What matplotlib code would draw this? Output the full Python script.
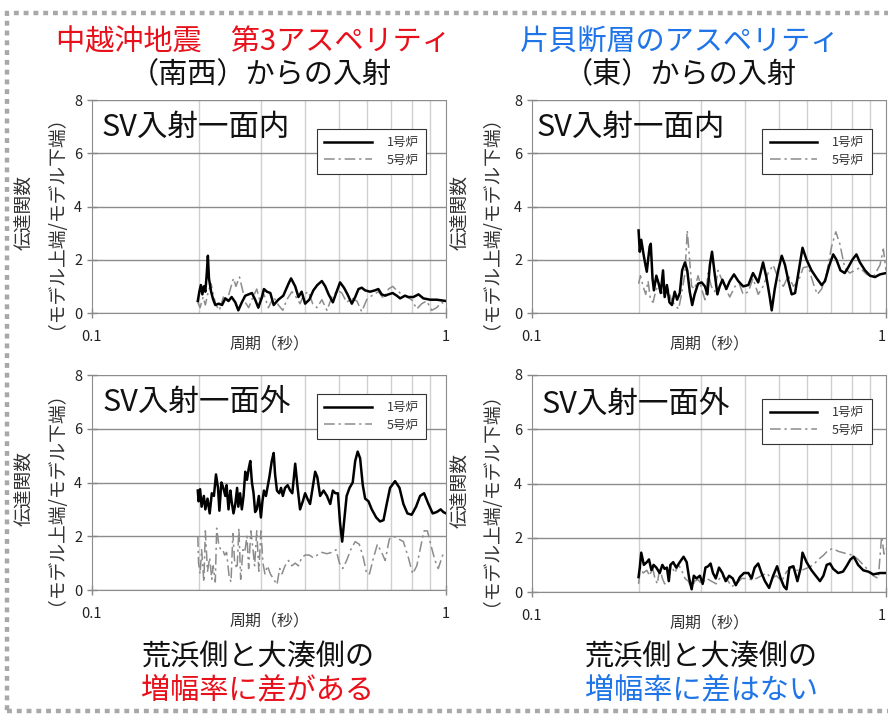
import matplotlib
matplotlib.use('Agg')
import matplotlib.pyplot as plt
from matplotlib.lines import Line2D
from matplotlib.patches import Rectangle
from matplotlib.ticker import FixedLocator, NullFormatter

plt.rcParams['font.family'] = ['Noto Sans CJK JP', 'DejaVu Sans']

# ---- data: period (s) and transfer function (model top / model bottom) ----
# 中越沖地震 第3アスペリティ, SV入射-面内
tl_p1 = [0.199, 0.201, 0.203, 0.205, 0.207, 0.209, 0.211, 0.2125, 0.214, 0.217, 0.220, 0.223,
         0.228, 0.233, 0.238, 0.243, 0.248, 0.254, 0.259, 0.265, 0.271, 0.277, 0.283, 0.289,
         0.295, 0.302, 0.306, 0.312, 0.319, 0.326, 0.336, 0.347, 0.359, 0.365, 0.375, 0.383,
         0.391, 0.400, 0.411, 0.422, 0.433, 0.446, 0.456, 0.466, 0.479, 0.491, 0.502, 0.515,
         0.527, 0.542, 0.554, 0.566, 0.578, 0.591, 0.610, 0.630, 0.644, 0.658, 0.673, 0.688,
         0.707, 0.726, 0.742, 0.766, 0.783, 0.809, 0.836, 0.863, 0.901, 0.941, 1.000]
tl_v1 = [0.45, 0.8, 1.05, 0.7, 1.0, 0.8, 1.5, 2.15, 1.3, 0.8, 0.5, 0.3,
         0.35, 0.3, 0.55, 0.45, 0.6, 0.4, 0.1, 0.4, 0.65, 0.7, 0.75, 0.5,
         0.2, 0.6, 0.9, 0.8, 0.75, 0.3, 0.5, 0.65, 1.1, 1.3, 1.0, 0.6,
         0.8, 0.35, 0.5, 0.85, 1.05, 1.2, 1.0, 0.7, 0.4, 0.8, 1.15, 0.95,
         0.7, 0.35, 0.6, 0.9, 0.95, 0.85, 0.8, 0.85, 0.9, 0.7, 0.65, 0.7,
         0.75, 0.65, 0.55, 0.65, 0.6, 0.6, 0.7, 0.55, 0.5, 0.5, 0.45]
tl_p5 = [0.199, 0.202, 0.206, 0.209, 0.213, 0.217, 0.220, 0.224, 0.229, 0.235, 0.240, 0.246,
         0.251, 0.255, 0.261, 0.267, 0.271, 0.277, 0.285, 0.292, 0.299, 0.306, 0.315, 0.326,
         0.336, 0.346, 0.355, 0.367, 0.377, 0.387, 0.397, 0.409, 0.420, 0.432, 0.446, 0.461,
         0.476, 0.494, 0.508, 0.524, 0.542, 0.560, 0.578, 0.597, 0.617, 0.644, 0.666, 0.688,
         0.707, 0.726, 0.750, 0.775, 0.800, 0.827, 0.854, 0.882, 0.911, 0.941, 0.972, 1.000]
tl_v5 = [0.4, 0.2, 0.6, 0.3, 0.8, 1.1, 0.7, 0.3, 0.1, 0.6, 0.4, 0.9,
         1.3, 1.0, 1.35, 0.8, 0.4, 0.2, 0.6, 0.9, 0.4, 0.7, 0.2, 0.6,
         0.3, 0.1, 0.5, 0.8, 0.6, 0.35, 0.7, 0.8, 0.35, 0.2, 0.5, 0.1,
         0.6, 0.85, 0.75, 0.4, 0.55, 0.45, 0.05, 0.5, 0.65, 0.8, 0.55, 0.9,
         1.0, 0.85, 0.7, 0.6, 0.5, 0.15, 0.35, 0.45, 0.1, 0.2, 0.4, 0.3]

# 片貝断層のアスペリティ, SV入射-面内
tr_p1 = [0.200, 0.2016, 0.2035, 0.206, 0.2085, 0.211, 0.2128, 0.215, 0.2165, 0.219, 0.221, 0.2245,
         0.228, 0.231, 0.2345, 0.237, 0.2405, 0.2445, 0.2485, 0.253, 0.257, 0.2615, 0.2655, 0.2705,
         0.2745, 0.279, 0.2835, 0.288, 0.2945, 0.3015, 0.308, 0.313, 0.318, 0.3225, 0.328, 0.334,
         0.339, 0.345, 0.354, 0.362, 0.372, 0.3825, 0.395, 0.4085, 0.421, 0.4355, 0.4495, 0.46,
         0.4695, 0.4755, 0.485, 0.496, 0.5075, 0.5185, 0.53, 0.5415, 0.5535, 0.5655, 0.581, 0.5965,
         0.616, 0.6375, 0.658, 0.6725, 0.692, 0.7095, 0.7245, 0.7435, 0.7645, 0.781, 0.8035, 0.825,
         0.844, 0.8725, 0.9015, 0.931, 0.9615, 1.000]
tr_v1 = [3.1, 2.3, 2.75, 2.3, 1.9, 1.55, 2.0, 2.5, 2.6, 1.3, 0.85, 1.4,
         1.1, 0.75, 1.6, 0.6, 1.05, 0.4, 0.3, 0.8, 0.5, 0.75, 1.6, 1.9,
         1.6, 0.8, 0.3, 0.7, 1.1, 1.15, 1.0, 0.7, 1.8, 2.3, 1.5, 0.7,
         1.0, 1.25, 0.9, 1.2, 1.45, 1.2, 1.0, 1.05, 1.5, 1.15, 1.9, 1.3,
         0.6, 0.1, 0.9, 1.6, 2.15, 1.8, 1.2, 0.7, 0.75, 1.5, 2.45, 2.0,
         1.6, 1.3, 1.05, 1.2, 1.8, 2.2, 2.0, 1.6, 1.5, 1.7, 2.0, 2.2,
         1.9, 1.6, 1.4, 1.35, 1.45, 1.5]
tr_p5 = [0.200, 0.2025, 0.206, 0.2095, 0.2128, 0.216, 0.2198, 0.2238, 0.227, 0.232, 0.237, 0.2425,
         0.2475, 0.253, 0.2595, 0.2645, 0.2705, 0.2745, 0.278, 0.2825, 0.288, 0.2945, 0.3015, 0.308,
         0.3145, 0.321, 0.328, 0.3355, 0.3425, 0.3525, 0.362, 0.3745, 0.385, 0.395, 0.4085, 0.421,
         0.4355, 0.4495, 0.4645, 0.48, 0.496, 0.513, 0.53, 0.5475, 0.5655, 0.5835, 0.603, 0.6235,
         0.6395, 0.658, 0.68, 0.702, 0.7215, 0.7405, 0.7645, 0.7895, 0.816, 0.844, 0.882, 0.9205,
         0.9615, 0.983, 1.000]
tr_v5 = [1.1, 1.4, 1.0, 0.7, 1.2, 0.5, 0.4, 0.85, 1.0, 0.8, 0.7, 0.9,
         0.5, 0.3, 0.15, 0.7, 1.5, 3.1, 2.2, 1.0, 0.9, 1.4, 0.9, 0.5,
         1.5, 1.0, 0.8, 1.6, 1.3, 0.9, 0.6, 1.0, 1.1, 0.7, 0.8, 1.3,
         0.7, 1.0, 1.5, 1.8, 1.3, 1.0, 1.4, 1.0, 1.2, 1.7, 1.75, 1.1,
         0.7, 0.9, 1.5, 2.5, 3.05, 2.6, 1.7, 1.5, 1.6, 1.7, 1.45, 1.35,
         1.8, 2.4, 1.6]

# 中越沖地震 第3アスペリティ, SV入射-面外
bl_p1 = [0.199, 0.200, 0.202, 0.204, 0.207, 0.209, 0.212, 0.215, 0.218, 0.221, 0.224, 0.227,
         0.229, 0.232, 0.235, 0.238, 0.240, 0.243, 0.246, 0.248, 0.251, 0.254, 0.257, 0.259,
         0.262, 0.265, 0.268, 0.271, 0.274, 0.277, 0.280, 0.283, 0.286, 0.289, 0.292, 0.296,
         0.300, 0.303, 0.306, 0.310, 0.313, 0.317, 0.322, 0.326, 0.329, 0.333, 0.338, 0.342,
         0.346, 0.351, 0.357, 0.363, 0.368, 0.375, 0.381, 0.387, 0.394, 0.400, 0.406, 0.413,
         0.420, 0.427, 0.433, 0.441, 0.451, 0.461, 0.471, 0.479, 0.487, 0.495, 0.502, 0.509,
         0.515, 0.524, 0.534, 0.545, 0.554, 0.563, 0.572, 0.582, 0.591, 0.604, 0.617, 0.635,
         0.651, 0.666, 0.680, 0.695, 0.718, 0.739, 0.758, 0.778, 0.800, 0.823, 0.845, 0.867,
         0.892, 0.917, 0.941, 0.966, 0.983, 1.000]
bl_v1 = [3.7, 3.3, 3.75, 3.1, 3.5, 3.0, 3.4, 2.85, 3.6, 3.5, 4.3, 3.8,
         2.95, 4.0, 3.8, 3.5, 3.9, 3.0, 3.7, 3.3, 2.85, 3.2, 3.8, 3.1,
         3.6, 3.0, 3.5, 4.4, 4.1, 4.5, 4.8, 4.0, 3.6, 2.9, 3.0, 3.5,
         2.7, 3.3, 3.7, 3.5, 3.8, 4.2, 4.8, 5.1, 4.3, 3.7, 3.6, 3.8,
         3.5, 3.8, 3.9, 3.7, 3.6, 4.7, 3.8, 3.0, 3.3, 3.6, 3.4, 3.2,
         3.8, 4.4, 4.2, 3.5, 3.7, 3.5, 3.2, 3.7, 3.6, 3.6, 2.5, 1.8,
         2.5, 3.5, 3.8, 4.0, 4.8, 5.15, 4.9, 3.9, 3.4, 3.3, 3.0, 2.7,
         2.55, 2.6, 3.2, 3.8, 4.05, 3.8, 3.2, 2.85, 2.8, 3.1, 3.5, 3.6,
         3.2, 2.85, 2.9, 3.0, 2.9, 2.85]
bl_p5 = [0.199, 0.200, 0.202, 0.204, 0.207, 0.209, 0.212, 0.215, 0.218, 0.220, 0.223, 0.225,
         0.228, 0.231, 0.234, 0.237, 0.240, 0.244, 0.247, 0.250, 0.253, 0.257, 0.260, 0.263,
         0.267, 0.270, 0.274, 0.277, 0.281, 0.285, 0.288, 0.292, 0.296, 0.300, 0.304, 0.308,
         0.313, 0.319, 0.326, 0.333, 0.339, 0.344, 0.351, 0.359, 0.367, 0.375, 0.383, 0.391,
         0.400, 0.411, 0.422, 0.433, 0.446, 0.461, 0.476, 0.489, 0.500, 0.511, 0.524, 0.538,
         0.554, 0.569, 0.584, 0.597, 0.608, 0.624, 0.640, 0.658, 0.673, 0.692, 0.710, 0.734,
         0.758, 0.783, 0.805, 0.827, 0.848, 0.867, 0.886, 0.905, 0.931, 0.951, 0.979, 1.000]
bl_v5 = [2.0, 1.0, 0.6, 1.5, 0.3, 2.2, 0.7, 1.2, 0.4, 0.9, 0.3, 2.3,
         1.7, 1.5, 1.5, 1.3, 1.4, 0.5, 0.3, 2.1, 1.0, 0.8, 2.3, 0.4,
         1.5, 1.4, 2.0, 0.8, 2.2, 1.5, 0.9, 2.2, 0.7, 2.2, 1.0, 0.6,
         0.9, 0.6, 0.4, 0.2, 0.8, 0.6, 0.9, 1.1, 0.9, 1.0, 0.9, 1.2,
         1.3, 1.3, 1.2, 1.3, 1.4, 1.35, 1.4, 1.5, 1.0, 0.8, 1.1, 1.5,
         1.8, 1.7, 1.2, 0.6, 0.6, 1.2, 1.7, 1.4, 1.1, 1.9, 2.0, 1.9,
         1.8, 1.2, 0.6, 0.9, 1.6, 2.2, 2.2, 1.7, 1.1, 0.8, 1.3, 1.3]

# 片貝断層のアスペリティ, SV入射-面外
br_p1 = [0.200, 0.2016, 0.2035, 0.207, 0.211, 0.214, 0.2175, 0.2205, 0.2245, 0.2295, 0.2335, 0.237,
         0.2405, 0.2435, 0.246, 0.2505, 0.2555, 0.2615, 0.268, 0.2735, 0.278, 0.2825, 0.2865, 0.2915,
         0.298, 0.3035, 0.309, 0.3145, 0.3195, 0.3245, 0.3305, 0.3375, 0.345, 0.3525, 0.3605, 0.369,
         0.3765, 0.3865, 0.397, 0.4085, 0.417, 0.4255, 0.4355, 0.445, 0.455, 0.4675, 0.48, 0.4925,
         0.504, 0.515, 0.5235, 0.5335, 0.5475, 0.562, 0.5745, 0.581, 0.5965, 0.616, 0.6375, 0.651,
         0.6655, 0.68, 0.695, 0.7095, 0.7325, 0.756, 0.7735, 0.7935, 0.8105, 0.834, 0.8625, 0.8915,
         0.9205, 0.9615, 1.000]
br_v1 = [0.55, 0.9, 1.45, 1.0, 1.1, 1.2, 0.8, 1.0, 0.9, 0.7, 1.0, 0.85,
         0.9, 0.4, 1.0, 1.1, 0.9, 1.1, 1.3, 1.1, 0.5, 0.1, 0.6, 0.5,
         0.6, 0.3, 0.9, 0.95, 1.05, 0.7, 0.5, 0.9, 0.7, 0.4, 0.6, 0.5,
         0.25, 0.55, 0.7, 0.7, 0.5, 0.9, 1.05, 0.7, 0.4, 0.15, 0.6, 0.95,
         0.5, 0.2, 0.1, 0.9, 0.95, 0.4, 0.9, 1.45, 1.1, 0.8, 0.55, 0.4,
         0.6, 1.0, 1.05, 0.85, 0.7, 0.75, 0.95, 1.2, 1.3, 1.0, 0.8, 0.75,
         0.65, 0.7, 0.7]
br_p5 = [0.200, 0.2025, 0.206, 0.211, 0.215, 0.219, 0.2225, 0.226, 0.2295, 0.2335, 0.237, 0.2425,
         0.2475, 0.253, 0.2595, 0.2645, 0.2705, 0.2765, 0.2825, 0.288, 0.2945, 0.3015, 0.3115, 0.321,
         0.3315, 0.3425, 0.354, 0.3665, 0.3785, 0.391, 0.404, 0.417, 0.4305, 0.445, 0.46, 0.4745,
         0.4905, 0.5075, 0.5235, 0.5415, 0.5595, 0.5775, 0.603, 0.6235, 0.6435, 0.6655, 0.6875, 0.7095,
         0.7325, 0.756, 0.781, 0.807, 0.834, 0.8625, 0.8915, 0.9205, 0.951, 0.972, 0.9875, 1.000]
br_v5 = [0.3, 0.9, 0.7, 0.8, 0.6, 0.9, 0.5, 0.3, 0.9, 0.5, 0.3, 0.4,
         1.0, 0.7, 1.0, 0.8, 0.5, 0.4, 0.1, 0.4, 0.45, 0.3, 0.5, 0.4,
         0.3, 0.6, 0.5, 0.2, 0.3, 0.5, 0.5, 0.45, 0.5, 0.6, 0.7, 0.5,
         0.6, 0.4, 0.75, 0.9, 0.8, 0.8, 0.9, 1.0, 1.2, 1.35, 1.55, 1.6,
         1.5, 1.45, 1.4, 1.35, 1.2, 1.0, 0.8, 0.6, 0.5, 2.05, 1.4, 1.6]

grid_periods = [0.2, 0.3, 0.4, 0.5, 0.6, 0.7, 0.8, 0.9]
series_names = ['1号炉', '5号炉']

RED = '#e8101a'
BLUE = '#1f74e8'
GRAY5 = '#8c8c8c'
DASHDOT = (0, (7, 2.5, 1.5, 2.5))

fig = plt.figure(figsize=(8.88, 7.18), dpi=100)

W, H = 888, 718


def box(x0, y0, x1, y1):
    return [x0 / W, 1 - y1 / H, (x1 - x0) / W, (y1 - y0) / H]


panels = [
    # rect, p1, v1, p5, v5, panel text, text pos, legend anchor, ylabel x, right-hand panel
    (box(92, 100, 446, 313), tl_p1, tl_v1, tl_p5, tl_v5, 'SV入射一面内', (0.028, 0.873), (0.962, 0.895), -0.10, False),
    (box(532, 100, 886, 313), tr_p1, tr_v1, tr_p5, tr_v5, 'SV入射一面内', (0.014, 0.869), (0.977, 0.895), -0.113, True),
    (box(92, 375, 446, 590), bl_p1, bl_v1, bl_p5, bl_v5, 'SV入射一面外', (0.031, 0.870), (0.962, 0.942), -0.10, False),
    (box(532, 375, 886, 592), br_p1, br_v1, br_p5, br_v5, 'SV入射一面外', (0.028, 0.862), (0.977, 0.920), -0.113, True),
]

for rect, p1, v1, p5, v5, label, tpos, lpos, ylx, right in panels:
    ax = fig.add_axes(rect)
    ax.set_xscale('log')
    ax.set_xlim(0.1, 1)
    ax.set_ylim(0, 8)
    ax.set_yticks([0, 2, 4, 6, 8])
    ax.set_xticks([0.1, 1])
    ax.set_xticklabels(['0.1', '1'])
    ax.xaxis.set_minor_locator(FixedLocator(grid_periods))
    ax.xaxis.set_minor_formatter(NullFormatter())
    ax.tick_params(which='minor', length=0)
    ax.tick_params(which='major', direction='inout', length=7, width=1, color='#888888',
                   labelsize=10.5, labelcolor='#222222')
    ax.tick_params(axis='x', pad=9)
    if right:
        ax.get_xticklabels()[-1].set_ha('right')
    ax.grid(axis='x', which='minor', color='#d0d0d0', lw=1)
    ax.grid(axis='y', which='major', color='#8c8c8c', lw=1)
    ax.set_axisbelow(True)
    for s in ['left', 'bottom', 'right']:
        ax.spines[s].set_color('#8c8c8c')
    ax.spines['top'].set_visible(False)

    ax.plot(p5, v5, color=GRAY5, lw=1.1, linestyle=DASHDOT)
    ax.plot(p1, v1, color='black', lw=1.8)

    ax.text(tpos[0], tpos[1], label, transform=ax.transAxes, fontsize=22,
            ha='left', va='center', color='#111111')

    handles = [Line2D([], [], color='black', lw=1.8),
               Line2D([], [], color=GRAY5, lw=1.1, linestyle=DASHDOT)]
    leg = ax.legend(handles, series_names, loc='upper right', bbox_to_anchor=lpos,
                    fontsize=9, handlelength=3.8, labelspacing=0.35, borderpad=0.6,
                    handletextpad=1.2, fancybox=False, framealpha=1, edgecolor='#333333')
    leg.get_frame().set_linewidth(0.8)
    for t in leg.get_texts():
        t.set_color('#333333')

    ax.set_ylabel('伝達関数\n（モデル上端/モデル下端）', fontsize=13.5, color='#333333',
                  linespacing=1.0)
    ax.yaxis.set_label_coords(ylx, 0.47)
    ax.set_xlabel('周期（秒）', fontsize=11.5, color='#333333')
    ax.xaxis.set_label_coords(0.5, -0.11)

# headings and conclusions
fig.text(253 / W, 1 - 42 / H, '中越沖地震　第3アスペリティ', color=RED, fontsize=21, ha='center', va='center')
fig.text(261 / W, 1 - 75 / H, '（南西）からの入射', color='#111111', fontsize=21, ha='center', va='center')
fig.text(680 / W, 1 - 42 / H, '片貝断層のアスペリティ', color=BLUE, fontsize=21, ha='center', va='center')
fig.text(680 / W, 1 - 75 / H, '（東）からの入射', color='#111111', fontsize=21, ha='center', va='center')
fig.text(258 / W, 1 - 657 / H, '荒浜側と大湊側の', color='#111111', fontsize=21, ha='center', va='center')
fig.text(258 / W, 1 - 690 / H, '増幅率に差がある', color=RED, fontsize=21, ha='center', va='center')
fig.text(701 / W, 1 - 657 / H, '荒浜側と大湊側の', color='#111111', fontsize=21, ha='center', va='center')
fig.text(701 / W, 1 - 690 / H, '増幅率に差はない', color=BLUE, fontsize=21, ha='center', va='center')

# dotted frame around the slide
fig.patches.append(Rectangle((6.5 / W, 1 - 711 / H), 1.0, (711 - 13) / H, transform=fig.transFigure,
                             fill=False, edgecolor='#a8a8a8', lw=3.2, linestyle=(0, (1.1, 1.1)),
                             clip_on=False))

fig.savefig('out.png', dpi=100)
